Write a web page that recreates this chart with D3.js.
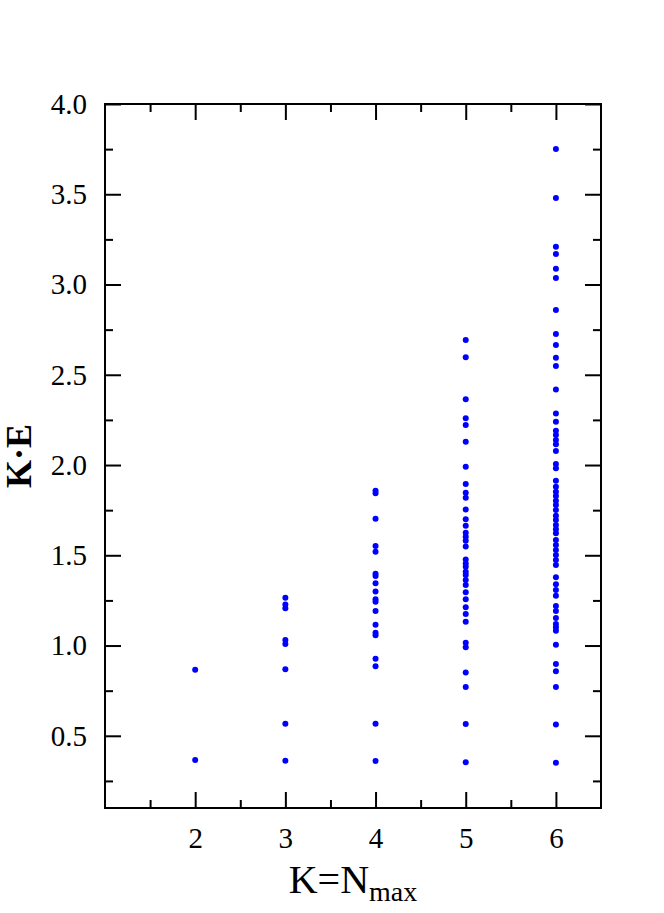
<!DOCTYPE html>
<html>
<head>
<meta charset="utf-8">
<script src="https://cdn.jsdelivr.net/npm/d3@7"></script>
<style>
  html, body { margin: 0; padding: 0; background: #fff; }
  svg { display: block; }
  text { font-family: "Liberation Serif", "Times New Roman", serif; fill: #000; }
</style>
</head>
<body>
<svg id="chart" width="664" height="913"></svg>
<script>
// ---- data ----
const categories = [2, 3, 4, 5, 6];
const valuesK2 = [0.866, 0.366];
const valuesK3 = [1.265, 1.228, 1.206, 1.030, 1.008, 0.868, 0.567, 0.362];
const valuesK4 = [1.858, 1.843, 1.703, 1.551, 1.520, 1.398, 1.385, 1.345, 1.300, 1.256,
                  1.243, 1.191, 1.115, 1.071, 1.057, 0.927, 0.885, 0.567, 0.360];
const valuesK5 = [2.693, 2.597, 2.364, 2.259, 2.222, 2.129, 1.991, 1.895, 1.847, 1.819,
                  1.754, 1.699, 1.664, 1.625, 1.603, 1.581, 1.548, 1.477, 1.455, 1.437,
                  1.409, 1.391, 1.363, 1.335, 1.295, 1.256, 1.212, 1.175, 1.132, 1.016,
                  0.990, 0.851, 0.770, 0.565, 0.353];
const valuesK6 = [3.751, 3.479, 3.209, 3.169, 3.088, 3.036, 2.859, 2.726, 2.665, 2.594,
                  2.548, 2.419, 2.286, 2.240, 2.190, 2.166, 2.139, 2.115, 2.078, 2.006,
                  1.982, 1.913, 1.880, 1.852, 1.828, 1.802, 1.778, 1.751, 1.719, 1.695,
                  1.668, 1.644, 1.622, 1.584, 1.557, 1.529, 1.501, 1.474, 1.446, 1.378,
                  1.339, 1.307, 1.276, 1.219, 1.191, 1.152, 1.119, 1.101, 1.082, 1.004,
                  0.898, 0.857, 0.770, 0.563, 0.351];
const seriesValues = [valuesK2, valuesK3, valuesK4, valuesK5, valuesK6];
const xTickLabels = ["2", "3", "4", "5", "6"];
const yTickLabels = ["0.5", "1.0", "1.5", "2.0", "2.5", "3.0", "3.5", "4.0"];
const yTickValues = [0.5, 1.0, 1.5, 2.0, 2.5, 3.0, 3.5, 4.0];
const xMinorValues = [1.5, 2.5, 3.5, 4.5, 5.5];
const yMinorValues = [0.25, 0.75, 1.25, 1.75, 2.25, 2.75, 3.25, 3.75];

// ---- layout ----
const svg = d3.select("#chart");
const pLeft = 105, pRight = 601, pTop = 104, pBottom = 808;
const x = d3.scaleLinear().domain([1, 6.5]).range([pLeft, pRight]);
const y = d3.scaleLinear().domain([0.1, 4.0]).range([pBottom, pTop]);

const points = [];
categories.forEach((c, i) => seriesValues[i].forEach(v => points.push({c, v})));

// dots
svg.append("g").selectAll("circle").data(points).join("circle")
  .attr("cx", d => x(d.c)).attr("cy", d => y(d.v)).attr("r", 3)
  .attr("fill", "#0000ff");

// axes (ticks inward)
const majorLen = 16, minorLen = 8, fontSize = 29;
function styleAxis(g) {
  g.select(".domain").remove();
  g.selectAll(".tick line").attr("stroke", "#000").attr("stroke-width", 2);
  g.selectAll(".tick text").style("font-size", fontSize + "px");
}
// bottom
svg.append("g").attr("transform", `translate(0,${pBottom})`)
  .call(d3.axisBottom(x).tickValues(categories).tickSize(-majorLen).tickPadding(19)
        .tickFormat((d, i) => xTickLabels[i]))
  .call(styleAxis);
svg.append("g").attr("transform", `translate(0,${pBottom})`)
  .call(d3.axisBottom(x).tickValues(xMinorValues).tickSize(-minorLen).tickFormat(""))
  .call(styleAxis);
// top
svg.append("g").attr("transform", `translate(0,${pTop})`)
  .call(d3.axisTop(x).tickValues(categories).tickSize(-majorLen).tickFormat(""))
  .call(styleAxis);
svg.append("g").attr("transform", `translate(0,${pTop})`)
  .call(d3.axisTop(x).tickValues(xMinorValues).tickSize(-minorLen).tickFormat(""))
  .call(styleAxis);
// left
svg.append("g").attr("transform", `translate(${pLeft},0)`)
  .call(d3.axisLeft(y).tickValues(yTickValues).tickSize(-majorLen).tickPadding(18)
        .tickFormat((d, i) => yTickLabels[i]))
  .call(styleAxis);
svg.append("g").attr("transform", `translate(${pLeft},0)`)
  .call(d3.axisLeft(y).tickValues(yMinorValues).tickSize(-minorLen).tickFormat(""))
  .call(styleAxis);
// right
svg.append("g").attr("transform", `translate(${pRight},0)`)
  .call(d3.axisRight(y).tickValues(yTickValues).tickSize(-majorLen).tickFormat(""))
  .call(styleAxis);
svg.append("g").attr("transform", `translate(${pRight},0)`)
  .call(d3.axisRight(y).tickValues(yMinorValues).tickSize(-minorLen).tickFormat(""))
  .call(styleAxis);

// frame
svg.append("rect").attr("x", pLeft).attr("y", pTop)
  .attr("width", pRight - pLeft).attr("height", pBottom - pTop)
  .attr("fill", "none").attr("stroke", "#000").attr("stroke-width", 2);

// axis titles
const xt = svg.append("text").attr("x", (pLeft + pRight) / 2).attr("y", 893)
  .attr("text-anchor", "middle").style("font-size", "40px");
xt.append("tspan").text("K=N");
xt.append("tspan").attr("dy", 8).style("font-size", "28px").text("max");

svg.append("text")
  .attr("transform", `translate(31,${(pTop + pBottom) / 2}) rotate(-90)`)
  .attr("text-anchor", "middle").style("font-size", "36px").style("font-weight", "bold")
  .text("K·E");
</script>
</body>
</html>
